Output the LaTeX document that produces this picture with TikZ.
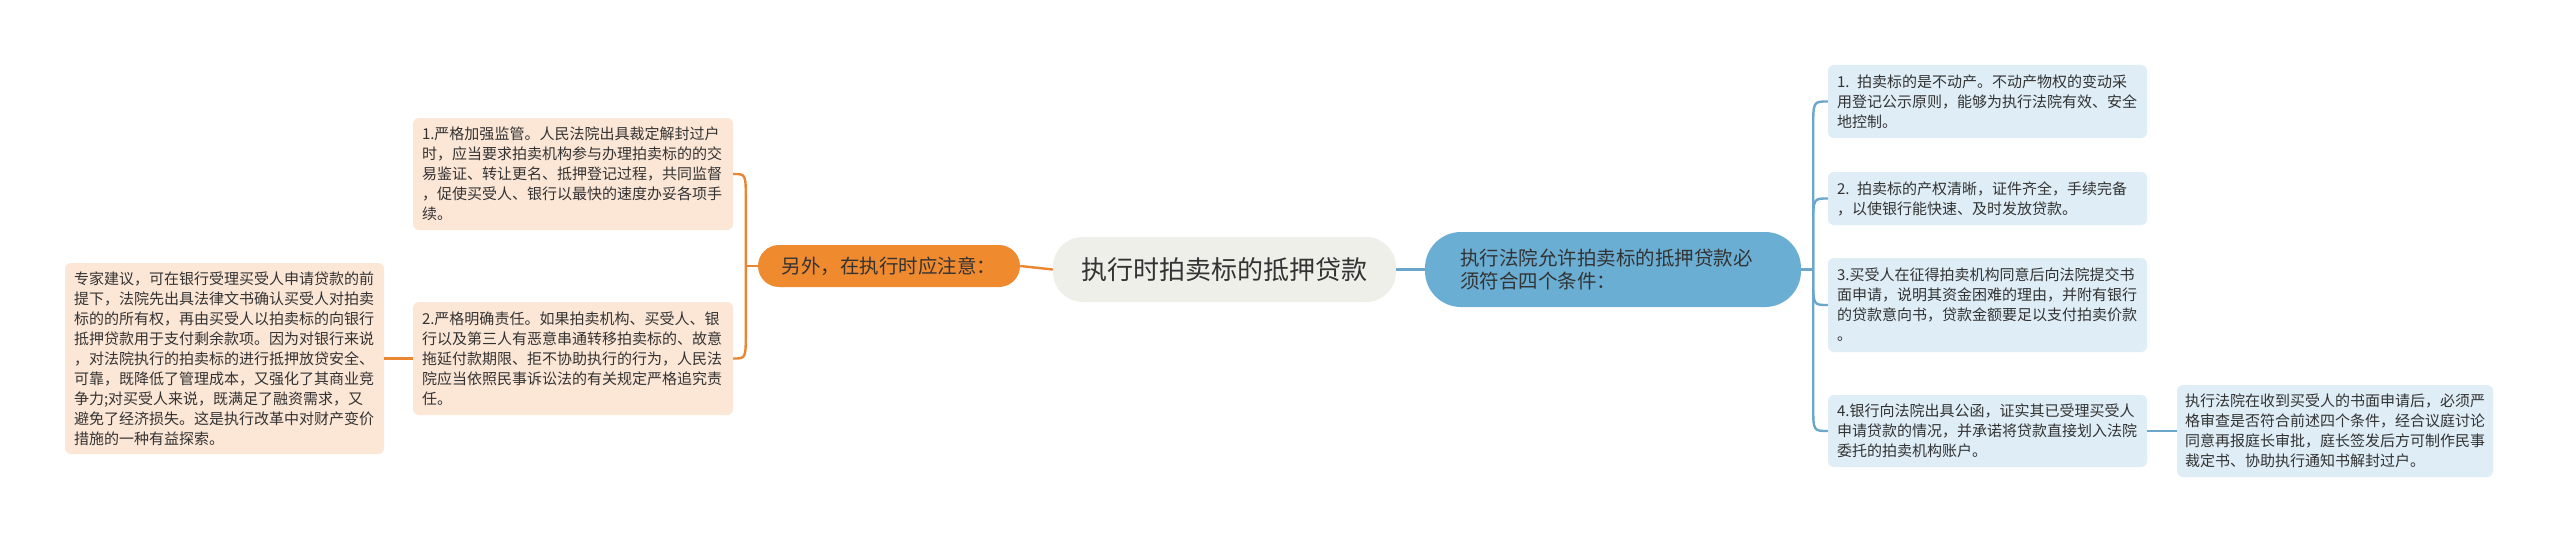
\documentclass[tikz,border=0pt]{standalone}
\usepackage{fontspec}
\setmainfont{Noto Sans CJK SC}
\usetikzlibrary{calc}
\definecolor{lfill}{HTML}{FCE6D6}
\definecolor{rfill}{HTML}{DEEDF6}
\definecolor{ofill}{HTML}{F08A2F}
\definecolor{cfill}{HTML}{EEEFE8}
\definecolor{bfill}{HTML}{6BAED3}
\definecolor{oline}{HTML}{EA8632}
\definecolor{bline}{HTML}{6AA7CA}
\definecolor{txt}{HTML}{333333}
\tikzset{
  smallbox/.style={rounded corners=6pt, text=txt, align=left, inner xsep=9pt, inner ysep=0pt,
    font={\fontsize{15}{20}\selectfont}, anchor=center},
  lbox/.style={smallbox, fill=lfill},
  rbox/.style={smallbox, fill=rfill},
  oconn/.style={draw=oline, line width=2.4pt},
  bconn/.style={draw=bline, line width=2.4pt},
}
\begin{document}
\begin{tikzpicture}[x=1pt,y=-1pt]
\useasboundingbox (0,0) rectangle (2560,543);
\fill[white] (0,0) rectangle (2560,543);

% central
\node[fill=cfill, rounded corners=30pt, text=txt, minimum width=343pt, minimum height=65pt,
  inner sep=0pt, font={\fontsize{26}{30}\selectfont}] (center) at (1224.5,269.5) {执行时拍卖标的抵押贷款};

% orange branch
\node[fill=ofill, rounded corners=21pt, text=txt, minimum width=262pt, minimum height=42pt,
  inner sep=0pt, font={\fontsize{19.5}{23}\selectfont}] (orange) at (889,266) {另外，在执行时应注意：};

\node[lbox, text width=302pt, minimum height=112pt] (lb1) at (573,174) {1.严格加强监管。人民法院出具裁定解封过户\\时，应当要求拍卖机构参与办理拍卖标的的交\\易鉴证、转让更名、抵押登记过程，共同监督\\，促使买受人、银行以最快的速度办妥各项手\\续。};
\node[lbox, text width=302pt, minimum height=113pt] (lb2) at (573,358.5) {2.严格明确责任。如果拍卖机构、买受人、银\\行以及第三人有恶意串通转移拍卖标的、故意\\拖延付款期限、拒不协助执行的行为，人民法\\院应当依照民事诉讼法的有关规定严格追究责\\任。};
\node[lbox, text width=301pt, minimum height=191pt] (expert) at (224.5,358.5) {专家建议，可在银行受理买受人申请贷款的前\\提下，法院先出具法律文书确认买受人对拍卖\\标的的所有权，再由买受人以拍卖标的向银行\\抵押贷款用于支付剩余款项。因为对银行来说\\，对法院执行的拍卖标的进行抵押放贷安全、\\可靠，既降低了管理成本，又强化了其商业竞\\争力;对买受人来说，既满足了融资需求，又\\避免了经济损失。这是执行改革中对财产变价\\措施的一种有益探索。};

% blue branch
\node[fill=bfill, rounded corners=36pt, text=txt, text width=306pt, minimum height=75pt,
  inner xsep=35pt, inner ysep=0pt, align=left, font={\fontsize{19.5}{23}\selectfont}] (blue) at (1613,269.5) {执行法院允许拍卖标的抵押贷款必\\须符合四个条件：};

\node[rbox, text width=301pt, minimum height=73pt] (rb1) at (1987.5,101.5) {1. 拍卖标的是不动产。不动产物权的变动采\\用登记公示原则，能够为执行法院有效、安全\\地控制。};
\node[rbox, text width=301pt, minimum height=53pt] (rb2) at (1987.5,198.5) {2. 拍卖标的产权清晰，证件齐全，手续完备\\，以使银行能快速、及时发放贷款。};
\node[rbox, text width=301pt, minimum height=94pt] (rb3) at (1987.5,305) {3.买受人在征得拍卖机构同意后向法院提交书\\面申请，说明其资金困难的理由，并附有银行\\的贷款意向书，贷款金额要足以支付拍卖价款\\。};
\node[rbox, text width=301pt, minimum height=72pt] (rb4) at (1987.5,431) {4.银行向法院出具公函，证实其已受理买受人\\申请贷款的情况，并承诺将贷款直接划入法院\\委托的拍卖机构账户。};
\node[rbox, inner xsep=8pt, text width=300pt, minimum height=92pt] (rb5) at (2335,431) {执行法院在收到买受人的书面申请后，必须严\\格审查是否符合前述四个条件，经合议庭讨论\\同意再报庭长审批，庭长签发后方可制作民事\\裁定书、协助执行通知书解封过户。};

% orange connectors
\draw[oconn] (center.west) -- (orange.east);
\coordinate (ot) at ($(orange.west)+(-12,0)$);
\draw[oconn] (orange.west) -- (ot);
\draw[oconn] (ot) -- ($(ot|-lb1.east)+(0,26)$) .. controls (ot|-lb1.east) .. (lb1.east);
\draw[oconn] (ot) -- ($(ot|-lb2.east)+(0,-26)$) .. controls (ot|-lb2.east) .. (lb2.east);
\draw[oconn] (lb2.west) -- (expert.east);

% blue connectors
\draw[bconn] (center.east) -- (blue.west);
\coordinate (bt) at ($(blue.east)+(12,0)$);
\draw[bconn] (blue.east) -- (bt);
\draw[bconn] (bt) -- ($(bt|-rb1.west)+(0,26)$) .. controls (bt|-rb1.west) .. (rb1.west);
\draw[bconn] (bt) -- ($(bt|-rb2.west)+(0,26)$) .. controls (bt|-rb2.west) .. (rb2.west);
\draw[bconn] (bt) -- ($(bt|-rb3.west)+(0,-26)$) .. controls (bt|-rb3.west) .. (rb3.west);
\draw[bconn] (bt) -- ($(bt|-rb4.west)+(0,-26)$) .. controls (bt|-rb4.west) .. (rb4.west);
\draw[bconn] (rb4.east) -- (rb5.west);
\end{tikzpicture}
\end{document}
